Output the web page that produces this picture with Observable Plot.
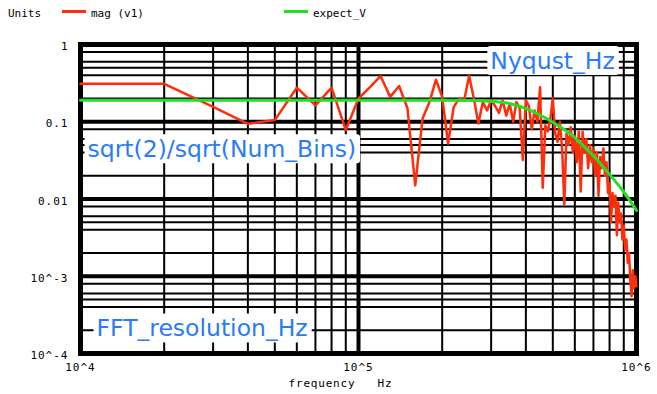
<!DOCTYPE html>
<html><head><meta charset="utf-8">
<script src="https://cdn.jsdelivr.net/npm/d3@7"></script>
<script src="https://cdn.jsdelivr.net/npm/@observablehq/plot@0.6"></script>
<style>
html,body{margin:0;padding:0;background:#fff;}
#wrap{width:657px;height:394px;position:relative;overflow:hidden;background:#fff;}
#legend{position:relative;width:657px;height:30px;font-family:"DejaVu Sans Mono",monospace;font-size:11px;line-height:14px;color:#000;}
#legend span{position:absolute;top:7px;white-space:pre;}
#legend i{position:absolute;top:10px;height:3px;width:24px;display:block;}
svg{display:block;}
svg [aria-label="y-axis tick label"] text, svg [aria-label="x-axis tick label"] text{letter-spacing:1px;}
</style></head><body><div id="wrap"><div id="legend"></div></div>
<script>
// ---- data ----
const unitsLabel = "Units";
const seriesNames = ["mag (v1)", "expect_V"];
const magFreqKHz = [10,20,30,40,50,60,70,80,90,100,
  110,120,130,140,150,160,170,180,190,200,
  210,220,230,240,250,260,270,280,290,300,
  310,320,330,340,350,360,370,380,390,400,
  410,420,430,440,450,460,470,480,490,500,
  510,520,530,540,550,560,570,580,590,600,
  610,620,630,640,650,660,670,680,690,700,
  710,720,730,740,750,760,770,780,790,800,
  810,820,830,840,850,860,870,880,890,900,
  910,920,930,940,950,960,970,980,990,1000];
const magValues = [0.31,0.31,0.156,0.094,0.105,0.276,0.163,0.276,0.078,0.20,
  0.28,0.39,0.21,0.29,0.15,0.015,0.11,0.18,0.35,0.21,
  0.052,0.155,0.20,0.19,0.39,0.20,0.095,0.18,0.14,0.19,
  0.16,0.13,0.19,0.12,0.17,0.10,0.18,0.15,0.032,0.19,
  0.16,0.08,0.14,0.10,0.28,0.014,0.09,0.075,0.11,0.20,
  0.07,0.055,0.10,0.045,0.0085,0.07,0.05,0.085,0.04,0.065,
  0.03,0.075,0.0125,0.074,0.04,0.06,0.025,0.05,0.03,0.045,
  0.02,0.04,0.011,0.035,0.025,0.045,0.02,0.03,0.012,0.016,
  0.005,0.012,0.008,0.011,0.0034,0.009,0.005,0.0065,0.003,0.0045,
  0.0022,0.003,0.0015,0.002,0.0009,0.00055,0.0012,0.0007,0.001,0.00074];
const expFreq = [1e4,1e5,2e5,2.66e5,2.98e5,3.52e5,3.99e5,4.4e5,4.79e5,5.2e5,5.79e5,6.45e5,7.18e5,8.06e5,8.98e5,1e6];
const expValues = [0.19,0.19,0.19,0.189,0.184,0.171,0.149,0.127,0.108,0.090,0.069,0.0483,0.0328,0.0201,0.0125,0.0071];
const xTicks = [1e4,1e5,1e6];
const xTickLabels = ["10^4","10^5","10^6"];
const yTicks = [1,0.1,0.01,0.001,0.0001];
const yTickLabels = ["1","0.1","0.01","10^-3","10^-4"];
const xMinor = [2e4,3e4,4e4,5e4,6e4,7e4,8e4,9e4,2e5,3e5,4e5,5e5,6e5,7e5,8e5,9e5];
const yMinor = [0.8,0.6,0.5,0.4,0.2,0.08,0.06,0.05,0.04,0.02,0.008,0.006,0.005,0.004,0.002,0.0008,0.0006,0.0005,0.0004,0.0002];
const annotTexts = ["Nyqust_Hz","sqrt(2)/sqrt(Num_Bins)","FFT_resolution_Hz"];
const annotFreq = [2.98e5,1.06e4,1.142e4];
const annotValue = [0.483,0.0348,1.66e-4];
const xLabel = "frequency\u00a0\u00a0\u00a0Hz";

// ---- styles ----
const colors = ["#ff2d0a","#22e022"];
const annotColor = "#2a7cf6";

// legend
const legend = document.getElementById("legend");
const legendPos = {units:8, swatch:[62,284], label:[91,313]};
const u = document.createElement("span"); u.textContent = unitsLabel; u.style.left = legendPos.units+"px"; legend.appendChild(u);
seriesNames.forEach((n,i)=>{
  const sw = document.createElement("i"); sw.style.left = legendPos.swatch[i]+"px"; sw.style.background = colors[i]; legend.appendChild(sw);
  const s = document.createElement("span"); s.textContent = n; s.style.left = legendPos.label[i]+"px"; legend.appendChild(s);
});

const mag = magFreqKHz.map((f,i)=>({f:f*1000, v:magValues[i]}));
const exp = expFreq.map((f,i)=>({f, v:expValues[i]}));
const annots = annotTexts.map((t,i)=>({t, f:annotFreq[i], v:annotValue[i]}));
const xFmt = new Map(xTicks.map((t,i)=>[t,xTickLabels[i]]));
const yFmt = new Map(yTicks.map((t,i)=>[t,yTickLabels[i]]));

const svg = Plot.plot({
  width:657, height:364,
  marginTop:14, marginBottom:41, marginLeft:80, marginRight:21,
  x:{type:"log", domain:[1e4,1e6]},
  y:{type:"log", domain:[1e-4,1]},
  style:{fontFamily:"DejaVu Sans Mono", fontSize:"11px", background:"white", color:"black", overflow:"visible"},
  marks:[
    Plot.ruleX(xMinor, {stroke:"black", strokeWidth:2}),
    Plot.ruleY(yMinor, {stroke:"black", strokeWidth:2}),
    Plot.ruleX(xTicks, {stroke:"black", strokeWidth:4}),
    Plot.ruleY(yTicks, {stroke:"black", strokeWidth:4}),
    Plot.frame({stroke:"black", strokeWidth:5}),
    Plot.line(mag, {x:"f", y:"v", stroke:colors[0], strokeWidth:2.5}),
    Plot.line(exp, {x:"f", y:"v", stroke:colors[1], strokeWidth:3, curve:"monotone-x"}),
    Plot.text(annots, {x:"f", y:"v", text:"t", textAnchor:"start", lineAnchor:"bottom", fill:annotColor, fontFamily:"DejaVu Sans", fontSize:23.5}),
    Plot.axisX({ticks:xTicks, tickFormat:d=>xFmt.get(d), tickSize:0, tickPadding:10, label:null, fontSize:11}),
    Plot.axisY({ticks:yTicks, tickFormat:d=>yFmt.get(d), tickSize:0, tickPadding:12, label:null, dy:2, fontSize:11}),
    Plot.text([xLabel], {frameAnchor:"bottom", dy:33, dx:-18, fontSize:11})
  ]
});
document.getElementById("wrap").appendChild(svg);

d3.select(svg).selectAll("text").each(function(){
  const t = this.textContent;
  if (annotTexts.includes(t)) {
    const b = this.getBBox();
    const r = document.createElementNS("http://www.w3.org/2000/svg","rect");
    r.setAttribute("x", b.x-3);
    r.setAttribute("y", b.y-1);
    r.setAttribute("width", b.width+7);
    r.setAttribute("height", b.height+1);
    r.setAttribute("rx", 3);
    r.setAttribute("fill", "white");
    const tr = this.getAttribute("transform");
    if (tr) r.setAttribute("transform", tr);
    this.parentNode.insertBefore(r, this);
  }
  if (t === xLabel) this.style.letterSpacing = "0.8px";
});
</script></body></html>
